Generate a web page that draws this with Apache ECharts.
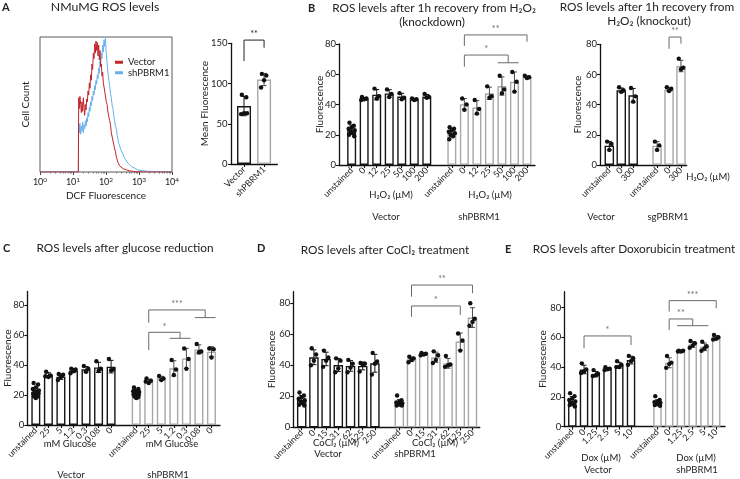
<!DOCTYPE html>
<html><head><meta charset="utf-8">
<script src="https://cdn.jsdelivr.net/npm/echarts@6.0.0/dist/echarts.min.js"></script>
<style>html,body{margin:0;padding:0;background:#fff;}#chart{width:740px;height:479px;}</style>
</head><body><div id="chart"></div>
<script>
const FONT = 'Lato, "Noto Sans", sans-serif';
const INK = '#222';

// ===== Panel A: DCF histogram (cell count, % of box height) =====
const histVector = [[1,0],[14.5,0],[14.9,55],[15.5,47],[16.2,56],[17.1,50],[17.9,44],[18.7,52],[19.6,45],[20.6,55],[21.6,48],[22.6,42],[23.7,50],[24.8,46],[26,54],[27.2,52],[28.5,60],[29.9,57],[31.3,66],[32.7,62],[34.3,72],[35.9,68],[37.6,80],[39.4,76],[41.3,88],[43.3,84],[45.4,95],[47.5,88],[49.8,97],[52.1,90],[54.6,96],[57.3,86],[60,94],[62.8,83],[65.8,90],[68.9,78],[72.2,80],[75.6,71],[79.2,74],[83,66],[87,67],[91.2,60],[96,59],[102,52],[108,50],[115,44],[122,43],[129,38],[137,35],[145,29],[154,28],[163,23],[173,22],[183,17],[194,15],[206,11],[218,10],[231,7],[245,7],[260,4.5],[290,4.5],[330,2.5],[370,3],[420,1.5],[466,1.8],[530,0.8],[590,0.7],[750,0.3],[930,0.2],[1300,0],[10000,0]];
const histShPBRM1 = [[1,0],[14.5,0],[14.9,35],[15.5,29],[16.2,36],[17.1,28],[17.9,34],[18.7,30],[19.6,37],[20.6,29],[21.6,35],[22.6,32],[23.7,38],[24.8,34],[26,40],[27.2,37],[28.5,44],[29.9,41],[31.3,48],[32.7,45],[34.3,52],[35.9,49],[37.6,56],[39.4,53],[41.3,60],[43.3,57],[45.4,64],[47.5,61],[49.8,68],[52.1,65],[54.6,72],[57.3,69],[60,77],[62.8,73],[65.8,82],[68.9,78],[72.2,88],[75.6,84],[79.2,94],[83,89],[87,98],[91.2,93],[96,99],[102,88],[108,81],[115,73],[122,68],[129,64],[137,58],[145,55],[154,49],[163,47],[173,41],[183,40],[194,34],[206,32],[218,27],[231,26],[245,21],[260,21],[290,16],[330,15],[370,10],[420,10],[466,6.5],[530,6],[590,4],[750,2.8],[930,1.5],[1300,1],[1870,0.5],[3000,0.4],[10000,0.3]];
const histDecades = [1, 10, 100, 1000, 10000];

// ===== Panel A: mean fluorescence =====
const aCatsVector = ['Vector'];
const aCatsSh = ['shPBRM1'];
const aMeansVector = [72];
const aMeansSh = [105];
const aPointsVector = [[86, 83, 63, 62, 63]];
const aPointsSh = [[112, 110, 104, 95]];

// ===== Panel B: knockdown =====
const bkdCats = ['unstained', '0', '12', '25', '50', '100', '200'];
const bkdVecMeans = [23.5, 43.8, 46.5, 47.3, 45.3, 43.5, 45.3];
const bkdVecPoints = [[28, 26, 25, 24, 23, 22, 21, 20, 19], [45, 44, 43.5, 43], [50.5, 45.5, 44], [50, 47, 45], [47.5, 44.5, 43.5], [44, 43.5, 43], [47, 45, 44.5]];
const bkdShMeans = [21.4, 40.2, 38, 47.4, 52.2, 55, 58.2];
const bkdShPoints = [[25, 24, 23, 22, 21, 20, 19, 17], [44, 40, 36.5], [43, 37, 34], [52, 45.5, 44.5], [59, 50, 47.5], [61.5, 55, 48.5], [59, 58, 57.5]];

// ===== Panel B: knockout =====
const bkoCats = ['unstained', '0', '300'];
const bkoVecMeans = [12.8, 49.5, 46.2];
const bkoVecPoints = [[15.5, 14, 10], [51.5, 49.5, 48.5], [51, 45.5, 42]];
const bkoSgMeans = [12.8, 50, 65.6];
const bkoSgPoints = [[15.5, 13, 10], [51.5, 50.5, 49], [70.5, 64.5, 63.5]];

// ===== Panel C: glucose =====
const cCats = ['unstained', '25', '5', '1.2', '0.3', '0.08', '0'];
const cVecMeans = [21.8, 33.3, 32.2, 36.2, 37.1, 38.4, 38.9];
const cVecPoints = [[28, 27, 25, 24, 23, 22, 22, 21, 21, 20, 20, 19, 19, 18], [35.5, 33, 32, 32.5], [34, 33.5, 32, 30], [37.5, 37, 36, 34.5], [39.3, 37.5, 35.5], [42.5, 37.5, 36], [44, 37, 36.5]];
const cShMeans = [21.1, 29.3, 31.1, 37.8, 44.4, 50.4, 48.9];
const cShPoints = [[25, 24, 23, 22.5, 22, 21.5, 21, 20.5, 20, 20, 19.5, 19, 18.5, 18], [31, 29.5, 28, 29], [32.7, 31, 30], [43.3, 37, 33.3], [51, 44, 37.5], [54, 49, 48.5], [51, 50.5, 45]];

// ===== Panel D: CoCl2 =====
const dCats = ['unstained', '0', '15', '31', '62', '125', '250'];
const dVecMeans = [17.6, 45.2, 44.1, 40.2, 39.6, 39.6, 41.3];
const dVecPoints = [[22.5, 20.5, 19.5, 18.5, 17.5, 16.5, 15.5, 14.5, 14], [51, 47, 43, 40], [49.5, 45, 43, 39], [44.5, 43, 38, 35.5], [43.5, 41, 38.5, 35.5], [41.5, 41, 40.5, 36], [48, 42.5, 41, 34]];
const dShMeans = [15.9, 43.9, 47.3, 45.2, 41.3, 55.3, 70.8];
const dShPoints = [[20.5, 17.5, 16.5, 16, 15.5, 15, 14.5, 14, 14], [45.5, 44.5, 43.5, 42], [48, 47.5, 47, 46.5], [49, 46.5, 43.5, 41.5], [46, 40.5, 40, 39], [60.5, 56, 49.5], [80, 70, 68, 65.5]];

// ===== Panel E: Doxorubicin =====
const eCats = ['unstained', '0', '1.25', '2.5', '5', '10'];
const eVecMeans = [17.2, 38.4, 35.3, 38.9, 41.3, 44.7];
const eVecPoints = [[22.5, 20.5, 19, 18, 17, 16, 15, 14.5, 13.5], [42.5, 38.5, 37, 36], [38, 35.5, 34.5, 34], [40, 39, 38.5, 38], [44, 41.5, 40, 40], [47.5, 46, 44, 41.5]];
const eShMeans = [16.1, 42.9, 50.8, 55.2, 53.6, 59.9];
const eShPoints = [[20.5, 18, 17, 16.5, 16, 15.5, 15, 14.5, 14], [47.5, 43, 42, 39.5], [51, 51, 50.5, 50.5], [57.5, 56, 54.5, 53], [57, 54, 52.5, 51], [61.5, 60, 59, 58.5]];

// ===== Significance annotations (bar index a -> b or crossbar group; y levels in data units) =====
const aSig = [{a: 0, b: 1, top: 154, l: 128, r: 144.5, text: '**'}];
const bkdSig = [{a: 8, b: 13, top: 86, l: 78.7, r: 81.5, text: '**'}, {a: 8, cross: [11, 12], top: 72.7, l: 65, r: 67.6, text: '*'}];
const bkoSig = [{a: 4, b: 5, top: 84.8, l: 77, r: 80.4, text: '**'}];
const cSig = [{a: 8, cross: [12, 13], top: 76.7, l: 68.2, r: 71.6, text: '***'}, {a: 8, cross: [10, 11], top: 61.8, l: 50, r: 57.8, text: '*'}];
const dSig = [{a: 8, b: 13, top: 91.8, l: 84.3, r: 86.5, text: '**'}, {a: 8, b: 12, top: 78.3, l: 71.4, r: 72.5, text: '*'}];
const eSig = [{a: 1, b: 5, top: 60.9, l: 52.6, r: 54.8, text: '*'}, {a: 7, b: 11, top: 84.6, l: 77.2, r: 79.5, text: '***'}, {a: 7, cross: [8, 10], top: 72.3, l: 64.9, r: 67.8, text: '**'}];

// ---------------------------------------------------------------
const BLACK = '#161616', GREY = '#a8a8a8', GREY_ERR = '#4a4a4a', SIG = '#6a6a6a';
const JIT = [-2.2, 2.2, 0, -3, 3, -1.2, 1.2, -2.6, 2.6, 0.4, -0.4, -1.8, 1.8, 0];

function sd(a) {
  const n = a.length; if (n < 2) return 0;
  const m = a.reduce((s, v) => s + v, 0) / n;
  return Math.sqrt(a.reduce((s, v) => s + (v - m) * (v - m), 0) / (n - 1));
}

const option = {
  animation: false,
  backgroundColor: '#ffffff',
  textStyle: {fontFamily: FONT, color: INK},
  grid: [], xAxis: [], yAxis: [], series: [], graphic: [],
  legend: {
    data: ['Vector', 'shPBRM1'], left: 115, top: 57, orient: 'vertical', icon: 'rect',
    itemWidth: 8, itemHeight: 3, itemGap: 0, padding: 0, selectedMode: false,
    textStyle: {fontSize: 9.5, color: INK, fontFamily: FONT, lineHeight: 10.5}
  }
};

// ---- Panel A histogram ----
const minorTicks = [];
[1, 10, 100, 1000].forEach(d => { for (let k = 2; k <= 9; k++) minorTicks.push(k * d); });
option.grid.push({left: 40, top: 37, width: 132, height: 135, show: true, borderColor: '#5a5a5a', borderWidth: 1, backgroundColor: 'transparent', containLabel: false, outerBoundsMode: 'none'});
option.xAxis.push({gridIndex: 0, type: 'log', logBase: 10, min: 1, max: 10000, position: 'bottom',
  axisLine: {show: false}, splitLine: {show: false},
  axisTick: {show: true, customValues: histDecades, length: 3, lineStyle: {color: '#444', width: 1}},
  axisLabel: {customValues: histDecades, fontSize: 9, color: INK, margin: 4, hideOverlap: false, showMinLabel: true, showMaxLabel: true,
    formatter: v => '10{s|' + Math.round(Math.log10(v)) + '}',
    rich: {s: {fontSize: 6.5, color: INK, verticalAlign: 'bottom', padding: [0, 0, 5, 0]}}},
  name: 'DCF Fluorescence', nameLocation: 'middle', nameGap: 19, nameMoveOverlap: false,
  nameTextStyle: {fontSize: 10, color: INK, fontFamily: FONT}});
option.xAxis.push({gridIndex: 0, type: 'log', logBase: 10, min: 1, max: 10000, position: 'bottom',
  axisLine: {show: false}, splitLine: {show: false}, axisLabel: {show: false},
  axisTick: {show: true, customValues: minorTicks, length: 1.5, lineStyle: {color: '#777', width: 1}}});
option.yAxis.push({gridIndex: 0, type: 'value', min: 0, max: 100, axisLine: {show: false, onZero: false},
  axisTick: {show: false}, axisLabel: {show: false}, splitLine: {show: false},
  name: 'Cell Count', nameLocation: 'middle', nameGap: 9, nameRotate: 90, nameMoveOverlap: false,
  nameTextStyle: {fontSize: 10, color: INK, fontFamily: FONT}});
option.yAxis.push({gridIndex: 0, type: 'value', min: 0, max: 100, show: false, position: 'right'});
option.series.push({type: 'line', name: 'shPBRM1', xAxisIndex: 0, yAxisIndex: 0, data: histShPBRM1, symbol: 'none', showSymbol: false, color: '#69b1ec', lineStyle: {width: 1, color: '#69b1ec'}, z: 3, silent: true});
option.series.push({type: 'line', name: 'Vector', xAxisIndex: 0, yAxisIndex: 0, data: histVector, symbol: 'none', showSymbol: false, color: '#c0262c', lineStyle: {width: 1, color: '#c0262c'}, z: 4, silent: true});

// ---- bar panels ----
const manualLabelPanels = [];
function addBarPanel(cfg) {
  const gi = option.grid.length, xi = option.xAxis.length, yi = option.yAxis.length;
  if (cfg.manualYLabels) manualLabelPanels.push({gi: gi, cfg: cfg});
  option.grid.push({left: cfg.left, top: cfg.top, width: cfg.width, height: cfg.height, containLabel: false, outerBoundsMode: 'none'});
  const pos = [], lab = [], mean = [], pts = [], col = [], ecol = [];
  cfg.groups.forEach(g => g.means.forEach((m, i) => {
    pos.push(g.start + i); lab.push(g.cats[i]); mean.push(m); pts.push(g.points[i]);
    col.push(g.color); ecol.push(g.errColor);
  }));
  const labelMap = {};
  pos.forEach((p, i) => { labelMap[p.toFixed(2)] = lab[i]; });
  const labelValues = [cfg.xMin].concat(pos, [cfg.xMax]);
  const axisLineStyle = {color: '#111', width: 1.3};
  option.xAxis.push({gridIndex: gi, type: 'value', min: cfg.xMin, max: cfg.xMax, splitLine: {show: false},
    axisLine: {show: true, onZero: false, lineStyle: axisLineStyle},
    axisTick: {show: true, customValues: pos, length: 3, lineStyle: {color: '#111', width: 1.1}},
    axisLabel: {show: true, customValues: labelValues, rotate: 45, fontSize: 8.8, color: INK, margin: 4, hideOverlap: false,
      formatter: v => { const t = labelMap[Number(v).toFixed(2)]; return t === undefined ? '' : t; }}});
  option.yAxis.push({gridIndex: gi, type: 'value', min: 0, max: cfg.yMax, splitLine: {show: false},
    axisLine: {show: true, onZero: false, lineStyle: axisLineStyle},
    axisTick: {show: true, customValues: cfg.yTicks, length: 3, lineStyle: {color: '#111', width: 1.1}},
    axisLabel: {show: !cfg.manualYLabels, customValues: cfg.yTicks, fontSize: 9.5, color: INK, margin: 3, hideOverlap: false, showMinLabel: true, showMaxLabel: true},
    name: cfg.yName, nameLocation: 'middle', nameGap: cfg.nameGap, nameRotate: 90, nameMoveOverlap: false,
    nameTextStyle: {fontSize: 10, color: INK, fontFamily: FONT}});
  option.series.push({type: 'bar', xAxisIndex: xi, yAxisIndex: yi, barWidth: cfg.barWidth, silent: true, z: 2,
    data: mean.map((m, i) => ({value: [pos[i], m], itemStyle: {color: '#ffffff', borderColor: col[i], borderWidth: 1.4}}))});
  option.series.push({type: 'custom', xAxisIndex: xi, yAxisIndex: yi, silent: true, z: 3, clip: false,
    encode: {x: 0, y: 1},
    data: mean.map((m, i) => [pos[i], m, sd(pts[i]), i]),
    renderItem: (params, api) => {
      const x = api.value(0), m = api.value(1), s = api.value(2), c = ecol[api.value(3)];
      const t = api.coord([x, m + s]), b = api.coord([x, m - s]);
      const w = 2.5, st = {stroke: c, lineWidth: 1};
      return {type: 'group', children: [
        {type: 'line', shape: {x1: t[0], y1: t[1], x2: b[0], y2: b[1]}, style: st},
        {type: 'line', shape: {x1: t[0] - w, y1: t[1], x2: t[0] + w, y2: t[1]}, style: st},
        {type: 'line', shape: {x1: b[0] - w, y1: b[1], x2: b[0] + w, y2: b[1]}, style: st}
      ]};
    }});
  const sdata = [];
  pts.forEach((arr, i) => arr.forEach((v, j) => sdata.push({value: [pos[i], v], symbolOffset: [JIT[j % JIT.length], 0]})));
  option.series.push({type: 'scatter', xAxisIndex: xi, yAxisIndex: yi, silent: true, z: 4, symbol: 'circle',
    symbolSize: 4.4, itemStyle: {color: '#111', opacity: 1}, data: sdata});
  const sig = cfg.sig, sc = cfg.sigColor;
  option.series.push({type: 'custom', xAxisIndex: xi, yAxisIndex: yi, silent: true, z: 5, clip: false,
    encode: {x: 0, y: 1},
    data: sig.map((b, i) => [pos[b.a], Math.min(b.top, cfg.yMax), i]),
    renderItem: (params, api) => {
      const b = sig[api.value(2)];
      const xa = pos[b.a];
      const xb = b.cross ? (pos[b.cross[0]] + pos[b.cross[1]]) / 2 : pos[b.b];
      const pA = api.coord([xa, b.l]), pAt = api.coord([xa, b.top]), pBt = api.coord([xb, b.top]), pB = api.coord([xb, b.r]);
      const st = {stroke: sc, lineWidth: 1, fill: null};
      const ch = [{type: 'polyline', shape: {points: [pA, pAt, pBt, pB]}, style: st}];
      if (b.cross) {
        const unit = api.size([1, 0])[0];
        const c0 = api.coord([pos[b.cross[0]], b.r]), c1 = api.coord([pos[b.cross[1]], b.r]);
        ch.push({type: 'line', shape: {x1: c0[0] - 0.33 * unit, y1: c0[1], x2: c1[0] + 0.33 * unit, y2: c1[1]}, style: st});
      }
      ch.push({type: 'text', x: (pAt[0] + pBt[0]) / 2, y: pAt[1] - 1,
        style: {text: b.text, fill: sc, fontSize: 9, fontFamily: FONT, align: 'center', verticalAlign: 'bottom'}});
      return {type: 'group', children: ch};
    }});
}

addBarPanel({left: 231, top: 43.3, width: 46.3, height: 120.7, xMin: -0.65, xMax: 1.66, yMax: 150, yTicks: [0, 50, 100, 150],
  barWidth: 14, yName: 'Mean Fluorescence', nameGap: 21, sig: aSig, sigColor: '#222', manualYLabels: true,
  groups: [{start: 0, cats: aCatsVector, means: aMeansVector, points: aPointsVector, color: BLACK, errColor: BLACK},
           {start: 1, cats: aCatsSh, means: aMeansSh, points: aPointsSh, color: GREY, errColor: GREY_ERR}]});
addBarPanel({left: 339, top: 44, width: 196, height: 121, xMin: -1.01, xMax: 14.64, yMax: 80, yTicks: [0, 20, 40, 60, 80],
  barWidth: 9, yName: 'Fluorescence', nameGap: 14, sig: bkdSig, sigColor: SIG,
  groups: [{start: 0, cats: bkdCats, means: bkdVecMeans, points: bkdVecPoints, color: BLACK, errColor: BLACK},
           {start: 8, cats: bkdCats, means: bkdShMeans, points: bkdShPoints, color: GREY, errColor: GREY_ERR}]});
addBarPanel({left: 600, top: 44.3, width: 86.7, height: 120.7, xMin: -0.78, xMax: 6.48, yMax: 80, yTicks: [0, 20, 40, 60, 80],
  barWidth: 9.5, yName: 'Fluorescence', nameGap: 17, sig: bkoSig, sigColor: SIG,
  groups: [{start: 0, cats: bkoCats, means: bkoVecMeans, points: bkoVecPoints, color: BLACK, errColor: BLACK},
           {start: 4, cats: bkoCats, means: bkoSgMeans, points: bkoSgPoints, color: GREY, errColor: GREY_ERR}]});
addBarPanel({left: 27.3, top: 291.5, width: 192.7, height: 133.5, xMin: -0.68, xMax: 14.68, yMax: 89, yTicks: [0, 20, 40, 60, 80],
  barWidth: 9, yName: 'Fluorescence', nameGap: 15, sig: cSig, sigColor: SIG,
  groups: [{start: 0, cats: cCats, means: cVecMeans, points: cVecPoints, color: BLACK, errColor: BLACK},
           {start: 8, cats: cCats, means: cShMeans, points: cShPoints, color: GREY, errColor: GREY_ERR}]});
addBarPanel({left: 293.3, top: 291.7, width: 186.5, height: 135.6, xMin: -0.69, xMax: 14.6, yMax: 87.5, yTicks: [0, 20, 40, 60, 80],
  barWidth: 9.5, yName: 'Fluorescence', nameGap: 17, sig: dSig, sigColor: SIG,
  groups: [{start: 0, cats: dCats, means: dVecMeans, points: dVecPoints, color: BLACK, errColor: BLACK},
           {start: 8, cats: dCats, means: dShMeans, points: dShPoints, color: GREY, errColor: GREY_ERR}]});
addBarPanel({left: 564.3, top: 291.7, width: 160.7, height: 135, xMin: -0.68, xMax: 13.0, yMax: 90.6, yTicks: [0, 20, 40, 60, 80],
  barWidth: 8.5, yName: 'Fluorescence', nameGap: 17, sig: eSig, sigColor: SIG,
  groups: [{start: 0, cats: eCats, means: eVecMeans, points: eVecPoints, color: BLACK, errColor: BLACK},
           {start: 7.25, cats: eCats, means: eShMeans, points: eShPoints, color: GREY, errColor: GREY_ERR}]});

// ---- texts ----
function txt(x, y, text, size, opt) {
  opt = opt || {};
  option.graphic.push({type: 'text', x: x, y: y, silent: true, z: 10,
    style: {text: text, fill: opt.color || INK, fontSize: size, fontFamily: FONT, fontWeight: opt.weight || 'normal',
      align: opt.align || 'center', verticalAlign: 'middle'}});
}
const TS = 11.8;
txt(2, 7, 'A', 11, {weight: 'bold', align: 'left'});
txt(105, 7, 'NMuMG ROS levels', 12.3);
txt(308, 8, 'B', 11, {weight: 'bold', align: 'left'});
txt(434, 8, 'ROS levels after 1h recovery from H\u2082O\u2082', TS);
txt(432, 22, '(knockdown)', TS);
txt(647, 7, 'ROS levels after 1h recovery from', TS);
txt(649, 21, 'H\u2082O\u2082 (knockout)', TS);
txt(391, 195, 'H\u2082O\u2082 (\u00b5M)', 9.5);
txt(490, 195, 'H\u2082O\u2082 (\u00b5M)', 9.5);
txt(386, 217, 'Vector', 9.5);
txt(479, 217, 'shPBRM1', 9.5);
txt(708, 177, 'H\u2082O\u2082 (\u00b5M)', 9.5);
txt(601, 217, 'Vector', 9.5);
txt(668, 217, 'sgPBRM1', 9.5);
txt(3, 248, 'C', 11, {weight: 'bold', align: 'left'});
txt(125, 248, 'ROS levels after glucose reduction', TS);
txt(70, 444, 'mM Glucose', 9.5);
txt(172, 444, 'mM Glucose', 9.5);
txt(71, 475, 'Vector', 9.5);
txt(168, 475, 'shPBRM1', 9.5);
txt(257, 248, 'D', 11, {weight: 'bold', align: 'left'});
txt(385, 250, 'ROS levels after CoCl\u2082 treatment', TS);
txt(336, 443, 'CoCl\u2082 (\u00b5M)', 9.5);
txt(435, 443, 'CoCl\u2082 (\u00b5M)', 9.5);
txt(328, 454, 'Vector', 9.5);
txt(415, 454, 'shPBRM1', 9.5);
txt(505, 249, 'E', 11, {weight: 'bold', align: 'left'});
txt(634, 249, 'ROS levels after Doxorubicin treatment', TS);
txt(601, 458, 'Dox (\u00b5M)', 9.5);
txt(696, 458, 'Dox (\u00b5M)', 9.5);
txt(598, 470, 'Vector', 9.5);
txt(697, 470, 'shPBRM1', 9.5);

const chart = echarts.init(document.getElementById('chart'), null, {renderer: 'canvas'});
chart.setOption(option);

// Tick labels of the first bar panel are placed from its own y scale (ECharts skips drawing them there).
try {
  const extra = [];
  manualLabelPanels.forEach(pa => {
    pa.cfg.yTicks.forEach(v => {
      const p = chart.convertToPixel({gridIndex: pa.gi}, [pa.cfg.xMin, v]);
      if (p) extra.push({type: 'text', x: p[0] - 3.5, y: p[1], silent: true, z: 10,
        style: {text: String(v), fill: INK, fontSize: 9.5, fontFamily: FONT, align: 'right', verticalAlign: 'middle'}});
    });
  });
  if (extra.length) {
    option.graphic = option.graphic.concat(extra);
    chart.setOption({graphic: option.graphic});
  }
} catch (e) {}
</script>
</body></html>
